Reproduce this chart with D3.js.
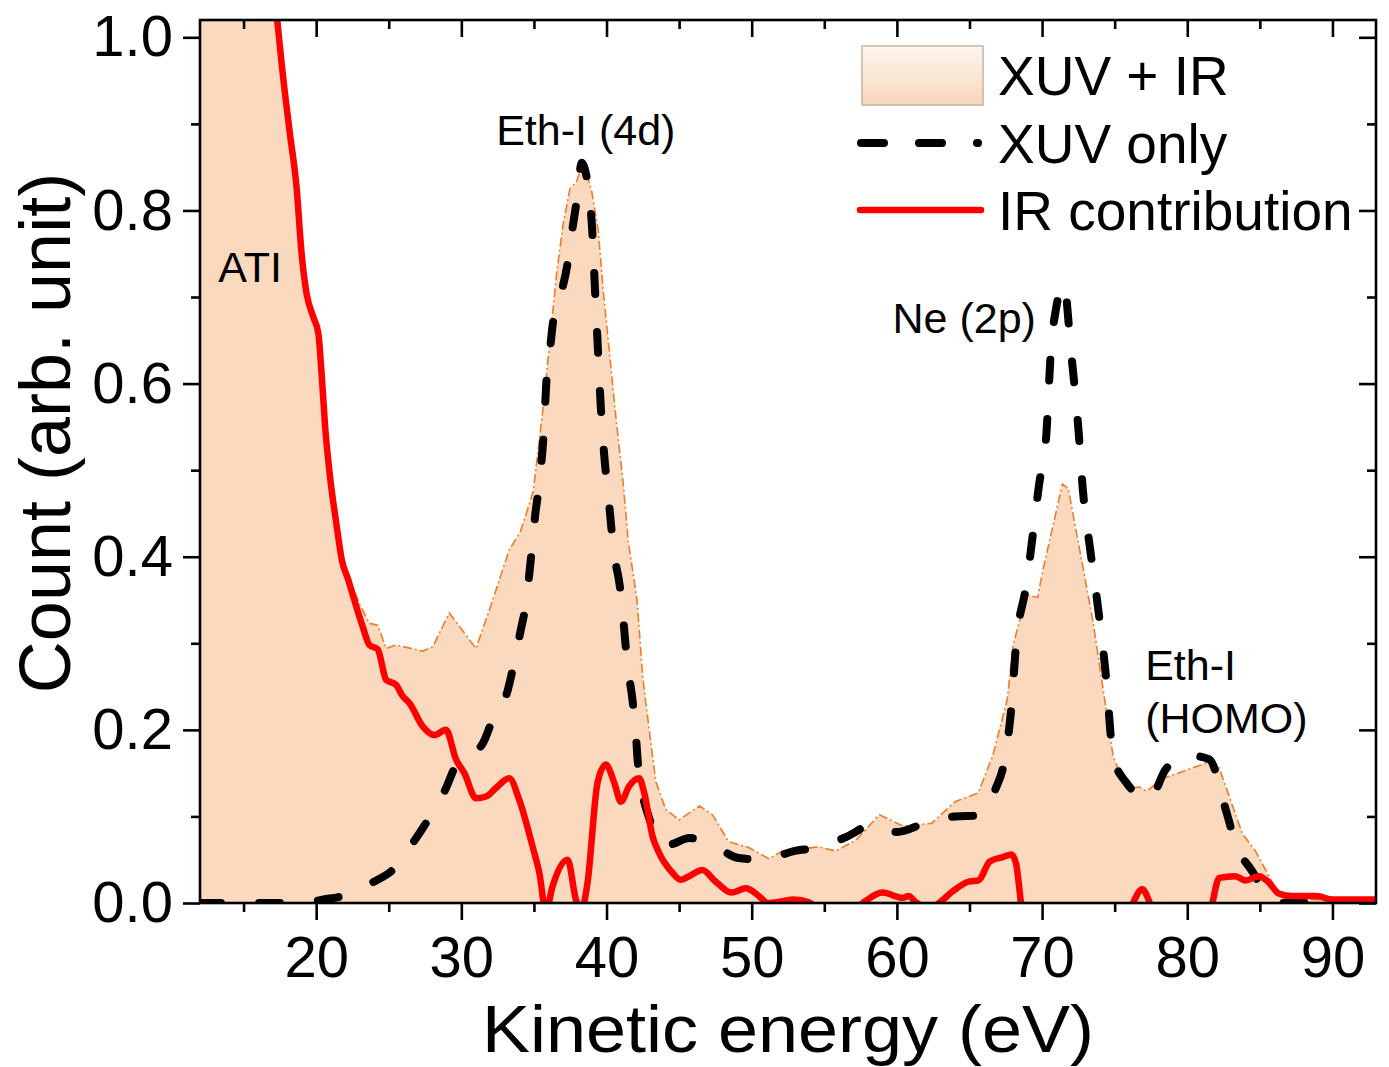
<!DOCTYPE html>
<html>
<head>
<meta charset="utf-8">
<script src="https://cdn.jsdelivr.net/npm/d3@7"></script>
<style>
  html, body { margin: 0; padding: 0; background: #fff; }
  svg { display: block; font-family: "Liberation Sans", Arial, sans-serif; }
</style>
</head>
<body>
<svg id="chart" width="1389" height="1067"></svg>
<script>
// ---- Data ----
const xMajorTicks = [20, 30, 40, 50, 60, 70, 80, 90];
const xMinorTicks = [15, 25, 35, 45, 55, 65, 75, 85];
const yMajorTicks = [0.0, 0.2, 0.4, 0.6, 0.8, 1.0];
const yMinorTicks = [0.1, 0.3, 0.5, 0.7, 0.9];

// XUV + IR (filled area), [eV, count]
const xuvIR = [
  [12,1.6],[15,1.3],[17.32,1.02],[17.62,0.97],[18.19,0.889],[18.65,0.827],[19.0,0.75],
  [19.34,0.704],[19.8,0.677],[20.15,0.658],[20.39,0.608],[20.62,0.55],[20.96,0.492],
  [21.42,0.435],[21.77,0.396],[22.29,0.375],[23.0,0.345],[23.67,0.323],[24.24,0.321],
  [24.82,0.294],[25.5,0.298],[27.34,0.291],[28.03,0.296],[29.17,0.335],[31.01,0.294],
  [32.16,0.350],[33.3,0.408],[34.05,0.428],[34.95,0.475],[35.64,0.573],[36.1,0.650],
  [36.56,0.727],[37.02,0.785],[37.48,0.825],[37.93,0.833],[38.39,0.856],[38.97,0.823],
  [39.43,0.777],[39.77,0.708],[40.23,0.631],[40.69,0.554],[41.15,0.485],[41.49,0.419],
  [42.1,0.35],[42.5,0.26],[42.94,0.20],[43.4,0.14],[44.08,0.108],[45.0,0.096],
  [46.4,0.112],[47.3,0.102],[48.4,0.071],[49.8,0.064],[51.2,0.051],[52.1,0.060],
  [53.3,0.062],[54.6,0.065],[55.8,0.060],[57.2,0.073],[58.8,0.102],[60.4,0.089],
  [62.4,0.092],[64.0,0.117],[65.6,0.127],[66.6,0.17],[67.6,0.235],[68.0,0.297],
  [68.9,0.356],[69.7,0.353],[70.0,0.380],[71.4,0.484],[71.8,0.479],[73.5,0.326],
  [74.9,0.169],[75.8,0.132],[76.7,0.134],[77.2,0.129],[78.3,0.144],[79.7,0.152],
  [81.7,0.164],[82.2,0.156],[83.8,0.080],[84.7,0.060],[86.1,0.016],[86.6,0.006],
  [88,0.004],[93,0.003]
];

// XUV only (dashed)
const xuvOnly = [
  [12,0],[14,0],[16,0],[18,0],[19.5,0.001],[20.5,0.004],[21.8,0.008],[23,0.016],
  [23.8,0.023],[25.5,0.042],[26.65,0.069],[27.7,0.096],[28.9,0.131],[29.6,0.158],
  [30.5,0.170],[31.5,0.185],[32.2,0.214],[33.2,0.246],[33.65,0.279],[34.1,0.316],
  [34.45,0.346],[34.7,0.383],[34.9,0.416],[35.1,0.45],[35.3,0.475],[35.5,0.506],
  [35.7,0.55],[35.85,0.60],[36.1,0.638],[36.3,0.669],[36.9,0.706],[37.3,0.737],
  [37.6,0.773],[37.9,0.806],[38.3,0.855],[38.5,0.848],[38.8,0.819],[39.0,0.781],
  [39.2,0.711],[39.4,0.642],[39.6,0.575],[39.9,0.506],[40.1,0.475],[40.3,0.439],
  [40.5,0.406],[40.9,0.368],[41.1,0.339],[41.3,0.300],[41.5,0.269],[41.8,0.233],
  [42.0,0.200],[42.15,0.164],[42.4,0.133],[42.9,0.100],[43.85,0.067],[44.5,0.068],
  [45.7,0.075],[47.5,0.065],[49.1,0.052],[50.8,0.050],[52.9,0.060],[54.6,0.064],
  [56.6,0.077],[58.4,0.091],[60.0,0.082],[62.2,0.094],[64.0,0.100],[65.7,0.101],
  [66.8,0.132],[67.4,0.164],[67.9,0.229],[68.2,0.297],[68.9,0.366],[69.8,0.484],
  [70.3,0.543],[70.6,0.636],[71.0,0.690],[71.5,0.715],[72.0,0.636],[72.5,0.548],
  [72.8,0.479],[73.3,0.410],[73.7,0.361],[74.4,0.262],[74.9,0.169],[75.8,0.139],
  [77.4,0.120],[78.5,0.154],[79.9,0.171],[81.5,0.166],[82.7,0.105],[83.3,0.070],
  [84.5,0.036],[85.5,0.010],[86.5,0],[93,0]
];

// IR contribution (red)
const irContribution = [
  [16.9,1.09],[17.32,1.02],[17.62,0.97],[18.19,0.889],[18.65,0.827],[19.0,0.75],
  [19.34,0.704],[19.8,0.677],[20.15,0.658],[20.39,0.608],[20.62,0.55],[20.96,0.492],
  [21.42,0.435],[21.77,0.396],[22.22,0.373],[22.52,0.356],[23.21,0.319],[23.67,0.298],
  [24.24,0.293],[24.82,0.258],[25.5,0.252],[25.96,0.239],[26.42,0.231],[27.34,0.204],
  [28.14,0.194],[28.94,0.200],[29.63,0.166],[30.21,0.150],[31.01,0.121],[31.7,0.123],
  [32.39,0.133],[33.3,0.144],[33.99,0.119],[34.91,0.065],[35.37,0.035],[35.83,-0.01],
  [36.28,0.019],[37.32,0.050],[37.89,0.004],[38.23,-0.01],[38.69,0.023],[39.38,0.139],
  [39.95,0.160],[40.53,0.139],[40.99,0.117],[41.56,0.135],[42.25,0.144],[42.6,0.127],
  [43.17,0.077],[43.62,0.058],[44.54,0.035],[45.1,0.027],[45.69,0.031],[46.6,0.038],
  [47.5,0.025],[48.6,0.012],[49.6,0.017],[50.5,0.008],[51.1,0.0],[52.1,0.002],
  [52.9,0.004],[53.9,0.001],[54.6,-0.005],[57.2,-0.005],[57.8,0.002],[59.0,0.012],
  [60.4,0.006],[60.8,0.008],[61.3,0.001],[62.3,-0.005],[62.9,0.0],[63.8,0.013],
  [65.0,0.025],[65.6,0.026],[66.4,0.048],[67.3,0.053],[67.9,0.056],[68.2,0.046],
  [68.7,-0.01],[75.8,-0.01],[76.9,0.016],[77.8,-0.01],[81.5,-0.01],[82.2,0.029],
  [83.3,0.031],[84.0,0.026],[84.95,0.031],[85.6,0.024],[86.3,0.011],[87.2,0.008],
  [88.9,0.008],[90.0,0.004],[93,0.004]
];

const annotations = [
  {text: "ATI", x: 13.25, y: 0.717},
  {text: "Eth-I (4d)", x: 32.4, y: 0.876},
  {text: "Ne (2p)", x: 59.7, y: 0.658},
  {text: "Eth-I", x: 77.1, y: 0.258},
  {text: "(HOMO)", x: 77.1, y: 0.196}
];
const legendLabels = ["XUV + IR", "XUV only", "IR contribution"];

// ---- Layout ----
const L = 200, R = 1376, T = 20, B = 903;
const svg = d3.select("#chart");
const x = d3.scaleLinear().domain([12, 93]).range([L, R]);
const y = d3.scaleLinear().domain([0, 1.02]).range([B, T]);

const defs = svg.append("defs");
defs.append("clipPath").attr("id", "plotclip")
  .append("rect").attr("x", L).attr("y", T).attr("width", R - L).attr("height", B - T);
const grad = defs.append("linearGradient").attr("id", "legGrad")
  .attr("x1", 0).attr("y1", 0).attr("x2", 0).attr("y2", 1);
grad.append("stop").attr("offset", "0%").attr("stop-color", "#fef6ef");
grad.append("stop").attr("offset", "100%").attr("stop-color", "#f9d6b9");

const fillColor = "#fad9bf";
const plot = svg.append("g").attr("clip-path", "url(#plotclip)");

const area = d3.area().x(d => x(d[0])).y0(y(0)).y1(d => y(d[1]));
const lineLin = d3.line().x(d => x(d[0])).y(d => y(d[1]));
const lineSmooth = d3.line().x(d => x(d[0])).y(d => y(d[1])).curve(d3.curveMonotoneX);

plot.append("path").datum(xuvIR).attr("d", area).attr("fill", fillColor);
plot.append("path").datum(xuvIR).attr("d", lineLin).attr("fill", "none")
  .attr("stroke", "#ee7d2a").attr("stroke-width", 1.6).attr("stroke-dasharray", "9 3 2 3");
plot.append("path").datum(xuvOnly).attr("d", lineSmooth).attr("fill", "none")
  .attr("stroke", "#000").attr("stroke-width", 8).attr("stroke-linecap", "round")
  .attr("stroke-linejoin", "round").attr("stroke-dasharray", "21 38");
plot.append("path").datum(irContribution).attr("d", lineSmooth).attr("fill", "none")
  .attr("stroke", "#ff0000").attr("stroke-width", 6.5).attr("stroke-linejoin", "round");

// ---- Axes ----
function styleAxis(g) {
  g.select(".domain").remove();
  g.selectAll(".tick line").attr("stroke", "#000").attr("stroke-width", 2.6);
  g.selectAll(".tick text").attr("font-size", 58).attr("fill", "#000")
    .attr("font-family", "'Liberation Sans', Arial, sans-serif");
}
svg.append("g").attr("transform", `translate(0,${B})`)
  .call(d3.axisBottom(x).tickValues(xMajorTicks).tickSize(17).tickPadding(16).tickFormat(d3.format("d")))
  .call(styleAxis);
svg.append("g").attr("transform", `translate(0,${B})`)
  .call(d3.axisBottom(x).tickValues(xMinorTicks).tickSize(9).tickFormat(""))
  .call(styleAxis);
svg.append("g").attr("transform", `translate(0,${T})`)
  .call(d3.axisBottom(x).tickValues(xMajorTicks).tickSize(17).tickFormat(""))
  .call(styleAxis);
svg.append("g").attr("transform", `translate(0,${T})`)
  .call(d3.axisBottom(x).tickValues(xMinorTicks).tickSize(9).tickFormat(""))
  .call(styleAxis);
svg.append("g").attr("transform", `translate(${L},0)`)
  .call(d3.axisLeft(y).tickValues(yMajorTicks).tickSize(17).tickPadding(10).tickFormat(d3.format(".1f")))
  .call(styleAxis);
svg.append("g").attr("transform", `translate(${L},0)`)
  .call(d3.axisLeft(y).tickValues(yMinorTicks).tickSize(9).tickFormat(""))
  .call(styleAxis);
svg.append("g").attr("transform", `translate(${R},0)`)
  .call(d3.axisLeft(y).tickValues(yMajorTicks).tickSize(17).tickFormat(""))
  .call(styleAxis);
svg.append("g").attr("transform", `translate(${R},0)`)
  .call(d3.axisLeft(y).tickValues(yMinorTicks).tickSize(9).tickFormat(""))
  .call(styleAxis);

svg.append("rect").attr("x", L).attr("y", T).attr("width", R - L).attr("height", B - T)
  .attr("fill", "none").attr("stroke", "#000").attr("stroke-width", 2.6);

// ---- Axis titles ----
svg.append("text").attr("x", (L + R) / 2).attr("y", 1052).attr("text-anchor", "middle")
  .attr("font-size", 67).attr("fill", "#000")
  .attr("textLength", 612).attr("lengthAdjust", "spacingAndGlyphs")
  .text("Kinetic energy (eV)");
svg.append("text").attr("transform", "translate(70,433) rotate(-90)").attr("text-anchor", "middle")
  .attr("font-size", 72).attr("fill", "#000").text("Count (arb. unit)");

// ---- Annotations ----
svg.selectAll(".ann").data(annotations).enter().append("text").attr("class", "ann")
  .attr("x", d => x(d.x)).attr("y", d => y(d.y)).attr("font-size", 43).attr("fill", "#000")
  .text(d => d.text);

// ---- Legend ----
const leg = svg.append("g");
leg.append("rect").attr("x", 862).attr("y", 46).attr("width", 121).attr("height", 59)
  .attr("fill", "url(#legGrad)").attr("stroke", "#c4b4a6").attr("stroke-width", 1.5);
leg.append("line").attr("x1", 861).attr("x2", 978).attr("y1", 143).attr("y2", 143)
  .attr("stroke", "#000").attr("stroke-width", 8).attr("stroke-linecap", "round")
  .attr("stroke-dasharray", "23 35");
leg.append("line").attr("x1", 860).attr("x2", 981).attr("y1", 210).attr("y2", 210)
  .attr("stroke", "#ff0000").attr("stroke-width", 6.5).attr("stroke-linecap", "round");
const legY = [95, 163, 230];
leg.selectAll(".lt").data(legendLabels).enter().append("text").attr("class", "lt")
  .attr("x", 998).attr("y", (d, i) => legY[i]).attr("font-size", 55).attr("fill", "#000")
  .text(d => d);
</script>
</body>
</html>
